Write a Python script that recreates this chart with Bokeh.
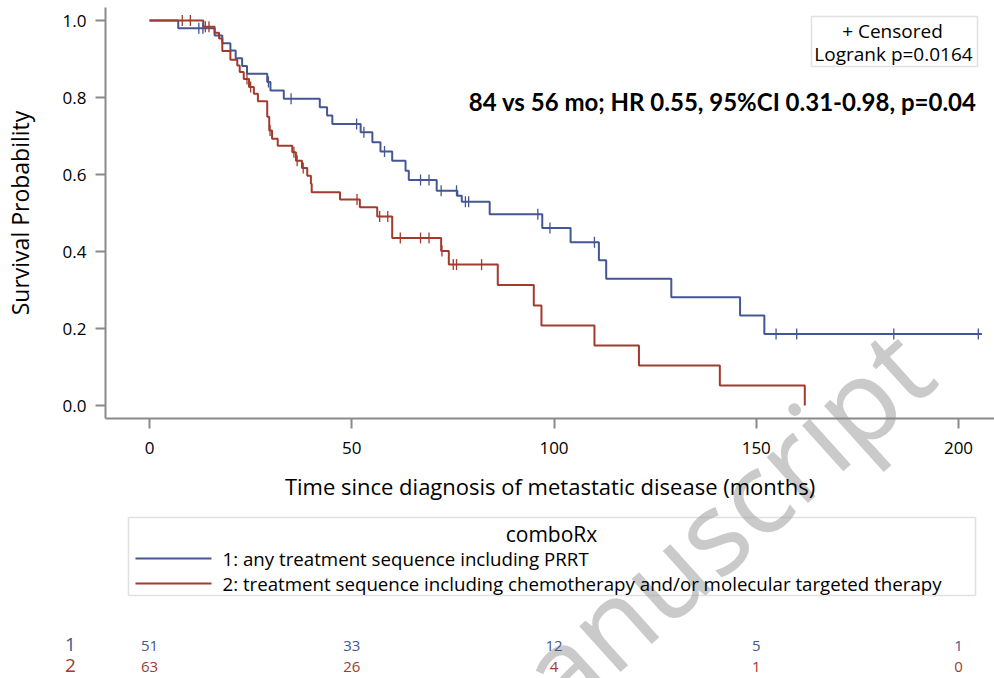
import numpy as np
from bokeh.plotting import figure
from bokeh.core.properties import value
from bokeh.models import (Range1d, Label, LabelSet, ColumnDataSource, BoxAnnotation,
                          FixedTicker, NumeralTickFormatter)
from bokeh.embed import file_html
from bokeh.resources import INLINE

# ---------------- data ----------------
blue_t = [0, 7.1, 16.1, 18.0, 20.0, 21.3, 22.9, 24.1, 29.1, 29.9, 33.2, 42.1, 43.9, 45.2,
          52.2, 55.1, 57.1, 60.0, 63.3, 64.1, 71.0, 76.1, 77.2, 84.1, 97.1, 104.1, 111.1,
          112.9, 129.0, 146.0, 152.0]
blue_s = [1.0, 0.980, 0.961, 0.941, 0.922, 0.902, 0.882, 0.862, 0.840, 0.818, 0.797, 0.775,
          0.753, 0.731, 0.710, 0.684, 0.660, 0.636, 0.610, 0.586, 0.558, 0.545, 0.529, 0.497,
          0.461, 0.424, 0.377, 0.329, 0.281, 0.234, 0.186]
blue_end = 205.8
blue_cens = [12.2, 13.2, 29.4, 35.0, 51.2, 53.0, 58.1, 67.0, 69.1, 72.1, 75.9, 78.1, 78.9,
             96.0, 99.0, 110.0, 154.9, 160.0, 184.0, 204.9]

red_t = [0, 13.3, 16.1, 17.2, 18.0, 20.0, 21.7, 22.3, 23.3, 24.6, 25.8, 26.8, 29.1, 29.6,
         30.3, 31.7, 35.3, 36.2, 37.7, 39.0, 39.9, 40.1, 47.1, 52.0, 56.3, 60.0, 72.1, 74.0,
         86.1, 95.0, 96.9, 110.0, 121.0, 141.0, 162.0]
red_s = [1.0, 0.984, 0.968, 0.953, 0.921, 0.898, 0.883, 0.866, 0.848, 0.827, 0.810, 0.790,
         0.750, 0.714, 0.693, 0.675, 0.658, 0.636, 0.617, 0.597, 0.576, 0.554, 0.535, 0.515,
         0.491, 0.435, 0.401, 0.366, 0.313, 0.260, 0.208, 0.156, 0.104, 0.052, 0.0]
red_cens = [8.1, 10.1, 13.8, 14.7, 24.1, 25.0, 29.8, 35.7, 36.5, 38.0, 51.3, 56.9, 58.9,
            62.0, 67.0, 69.1, 72.3, 75.1, 75.9, 82.1]

risk_times = [0, 50, 100, 150, 200]
risk_blue = [51, 33, 12, 5, 1]
risk_red = [63, 26, 4, 1, 0]

x_ticks = [0, 50, 100, 150, 200]
y_ticks = [0.0, 0.2, 0.4, 0.6, 0.8, 1.0]

legend_title = "comboRx"
legend_1 = "1: any treatment sequence including PRRT"
legend_2 = "2: treatment sequence including chemotherapy and/or molecular targeted therapy"
annot = "84 vs 56 mo; HR 0.55, 95%CI 0.31-0.98, p=0.04"
box_1 = "+ Censored"
box_2 = "Logrank p=0.0164"
watermark = "manuscript"

BLUE = "#445694"
RED = "#A23A2E"
AXIS = "#8a8a8a"
FONT = "Open Sans"

# ---------------- layout helpers (page pixels -> data) ----------------
X0, XS = 149.0, 4.045     # page x of month 0, px per month
Y0, YS = 405.0, 385.0     # page y of survival 0, px per unit


def mx(px):
    return (px - X0) / XS


def sy(py):
    return (Y0 - py) / YS


W, H = 994, 678
p = figure(width=W, height=H, output_backend="svg", toolbar_location=None,
           x_range=Range1d(mx(0), mx(W)), y_range=Range1d(sy(H), sy(0)),
           min_border_left=0, min_border_right=0, min_border_top=0, min_border_bottom=0)
p.outline_line_color = None
p.grid.visible = False
p.background_fill_color = "white"
p.border_fill_color = "white"

# watermark (underneath everything)
p.add_layout(Label(x=mx(455), y=sy(760), text=watermark, text_font="Noto Sans",
                   text_font_size="115px", text_color="#bdbdbd", text_alpha=0.8,
                   angle=42, angle_units="deg", text_align="left", text_baseline="alphabetic",
                   level="underlay"))

# axes (placed at fixed positions of the plot area)
for ax in (p.xaxis, p.yaxis):
    ax.axis_line_color = AXIS
    ax.axis_line_width = 2
    ax.major_tick_line_color = AXIS
    ax.major_tick_line_width = 2
    ax.major_tick_out = 10
    ax.major_tick_in = 0
    ax.minor_tick_line_color = None
    ax.major_label_text_font = FONT
    ax.major_label_text_font_size = "17px"
    ax.major_label_text_color = "black"
    ax.axis_label_text_font = FONT
    ax.axis_label_text_font_style = "normal"
    ax.axis_label_text_color = "black"

p.xaxis.fixed_location = sy(418)
p.xaxis.bounds = (mx(105), mx(W))
p.yaxis.fixed_location = mx(105)
p.yaxis.bounds = (sy(418), sy(7))

p.xaxis.ticker = FixedTicker(ticks=x_ticks)
p.yaxis.ticker = FixedTicker(ticks=y_ticks)
p.yaxis.formatter = NumeralTickFormatter(format="0.0")
p.xaxis.axis_label = "Time since diagnosis of metastatic disease (months)"
p.yaxis.axis_label = "Survival Probability"
p.xaxis.axis_label_text_font_size = "22px"
p.yaxis.axis_label_text_font_size = "23px"
p.xaxis.major_label_standoff = 13
p.yaxis.major_label_standoff = 9
p.xaxis.axis_label_standoff = 14
p.yaxis.axis_label_standoff = 24


def surv_at(times, surv, t):
    idx = np.searchsorted(np.array(times), np.array(t), side="right") - 1
    return list(np.array(surv)[idx])


# curves
p.step(x=blue_t + [blue_end], y=blue_s + [blue_s[-1]], mode="after", line_color=BLUE, line_width=2)
p.step(x=red_t, y=red_s, mode="after", line_color=RED, line_width=2)
p.scatter(x=blue_cens, y=surv_at(blue_t, blue_s, blue_cens), marker="dash", angle=np.pi / 2,
          size=11, line_color=BLUE, line_width=1.3)
p.scatter(x=red_cens, y=surv_at(red_t, red_s, red_cens), marker="dash", angle=np.pi / 2,
          size=11, line_color=RED, line_width=1.3)


def lab(x, y, text, size, align="center", color="black", font=FONT, style="normal"):
    p.add_layout(Label(x=x, y=y, text=text, text_font=font, text_font_size=size,
                       text_font_style=style, text_color=color, text_align=align,
                       text_baseline="middle"))


# censored / logrank box
p.add_layout(BoxAnnotation(left=mx(811), right=mx(977), top=sy(16), bottom=sy(66),
                           fill_alpha=0, line_color="#9a9a9a", line_width=1.5))
lab(mx(892), sy(30), box_1, "19px")
lab(mx(893), sy(53), box_2, "19px")
lab(mx(976), sy(101), annot, "24px", align="right", font="Lato", style="bold")

# legend box
p.add_layout(BoxAnnotation(left=mx(128), right=mx(975), top=sy(517), bottom=sy(595),
                           fill_alpha=0, line_color="#9a9a9a", line_width=1.5))
lab(mx(551), sy(533), legend_title, "21px")
p.segment(x0=[mx(135)], x1=[mx(211)], y0=[sy(558)], y1=[sy(558)], line_color=BLUE, line_width=2)
p.segment(x0=[mx(135)], x1=[mx(211)], y0=[sy(583)], y1=[sy(583)], line_color=RED, line_width=2)
lab(mx(222), sy(558), legend_1, "18.7px", align="left")
lab(mx(222), sy(583), legend_2, "18.7px", align="left")

# at-risk table
src_b = ColumnDataSource(dict(x=risk_times, y=[sy(645)] * len(risk_times), t=[str(v) for v in risk_blue]))
src_r = ColumnDataSource(dict(x=risk_times, y=[sy(666)] * len(risk_times), t=[str(v) for v in risk_red]))
p.add_layout(LabelSet(x="x", y="y", text="t", source=src_b, text_font=value(FONT),
                      text_font_size=value("15px"), text_color=BLUE, text_align="center",
                      text_baseline="middle"))
p.add_layout(LabelSet(x="x", y="y", text="t", source=src_r, text_font=value(FONT),
                      text_font_size=value("15px"), text_color=RED, text_align="center",
                      text_baseline="middle"))
lab(mx(70), sy(644), "1", "19px", color=BLUE)
lab(mx(70), sy(665), "2", "19px", color=RED)

open("out.html", "w").write(file_html(p, INLINE))
